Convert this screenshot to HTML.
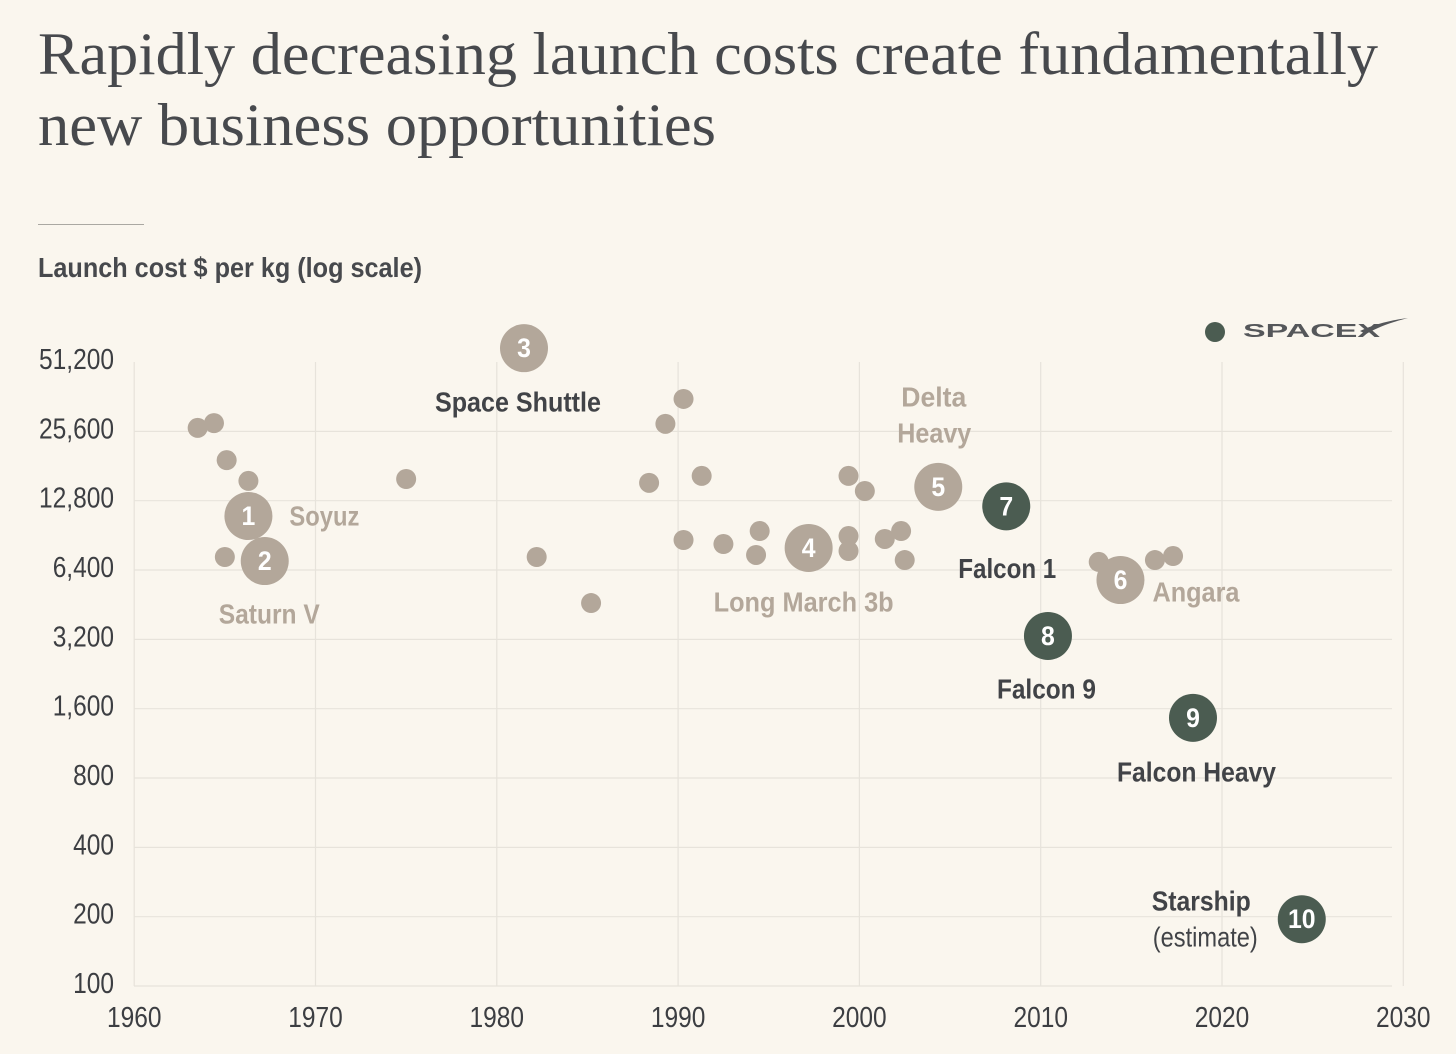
<!DOCTYPE html>
<html lang="en">
<head>
<meta charset="utf-8">
<title>Rapidly decreasing launch costs</title>
<style>
html,body{margin:0;padding:0;background:#faf6ee;}
svg{display:block;}
text{font-family:"Liberation Sans",sans-serif;}
.title{font-family:"Liberation Serif",serif;font-size:60px;fill:#47494d;}
.lab{font-weight:700;font-size:28px;}
.tick{font-size:29px;fill:#3c3e42;}
.num{font-weight:700;font-size:27px;fill:#fff;text-anchor:middle;}
</style>
</head>
<body>
<svg id="chart" width="1456" height="1054" viewBox="0 0 1456 1054" xmlns="http://www.w3.org/2000/svg">
  <rect width="1456" height="1054" fill="#faf6ee"/>
  <text class="title" x="38" y="74" textLength="1340" lengthAdjust="spacingAndGlyphs">Rapidly decreasing launch costs create fundamentally</text>
  <text class="title" x="38" y="145" textLength="678" lengthAdjust="spacingAndGlyphs">new business opportunities</text>
  <line x1="38" x2="144" y1="224.5" y2="224.5" stroke="#aaa8a2" stroke-width="1"/>
  <text x="38" y="277" font-size="28" font-weight="700" fill="#47494d" textLength="384" lengthAdjust="spacingAndGlyphs">Launch cost $ per kg (log scale)</text>
  <g id="grid"></g>
  <g id="ticks"></g>
  <g id="others"></g>
  <g id="named"></g>
  <g id="labels"></g>
  <g>
    <circle cx="1215" cy="332" r="10" fill="#4b5c51"/>
    <text x="1243" y="337" font-size="18" font-weight="700" fill="#55575a" textLength="137" lengthAdjust="spacingAndGlyphs">SPACEX</text>
    <path d="M1360 331 C1375 324 1392 320 1408 318 C1392 322 1378 327 1366 334 Z" fill="#55575a"/>
  </g>
</svg>
<script>
const xTickYears = [1960, 1970, 1980, 1990, 2000, 2010, 2020, 2030];
const yTickCosts = [100, 200, 400, 800, 1600, 3200, 6400, 12800, 25600, 51200];

const otherYears = [1963.5, 1964.4, 1965.1, 1966.3, 1965.0, 1975.0, 1982.2, 1985.2, 1988.4, 1989.3, 1990.3, 1991.3, 1990.3, 1992.5, 1994.3, 1994.5, 1999.4, 2000.3, 1999.4, 1999.4, 2001.4, 2002.3, 2002.5, 2013.2, 2016.3, 2017.3];
const otherCosts = [26500, 27800, 19200, 15600, 7290, 15900, 7290, 4600, 15300, 27600, 35400, 16400, 8640, 8300, 7440, 9450, 16400, 14100, 8990, 7740, 8730, 9450, 7070, 6940, 7070, 7360];

const namedVehicles = ['Soyuz', 'Saturn V', 'Space Shuttle', 'Long March 3b', 'Delta Heavy', 'Angara', 'Falcon 1', 'Falcon 9', 'Falcon Heavy', 'Starship'];
const namedYears = [1966.3, 1967.2, 1981.5, 1997.2, 2004.35, 2014.4, 2008.1, 2010.4, 2018.4, 2024.4];
const namedCosts = [10980, 7000, 58800, 7980, 14700, 5790, 12100, 3310, 1460, 195];
const namedIsSpaceX = [false, false, false, false, false, false, true, true, true, true];

const TAN = '#b3a79a', GREEN = '#4b5c51', DARK = '#414347', GRID = '#e7e3db';
const NS = 'http://www.w3.org/2000/svg';
const xScale = y => 134.2 + (y - 1960) * 18.13;
const yScale = c => 986 - Math.log2(c / 100) * 69.33;

function make(tag, attrs, parent) {
  const el = document.createElementNS(NS, tag);
  for (const k in attrs) el.setAttribute(k, attrs[k]);
  parent.appendChild(el);
  return el;
}
function squeeze(el, ratio) {
  el.setAttribute('textLength', (el.getComputedTextLength() * ratio).toFixed(1));
  el.setAttribute('lengthAdjust', 'spacingAndGlyphs');
}

const grid = document.getElementById('grid');
const ticks = document.getElementById('ticks');
const others = document.getElementById('others');
const named = document.getElementById('named');
const labels = document.getElementById('labels');

yTickCosts.forEach(c => {
  const y = yScale(c);
  if (c < 51200) {
    const l = make('line', {x1: 134, x2: 1392, y1: y, y2: y, stroke: GRID, 'stroke-width': 1.2}, grid);
    
    
  }
  const t = make('text', {class: 'tick', x: 114, y: y + 7, 'text-anchor': 'end'}, ticks);
  t.textContent = c.toLocaleString('en-US');
  
  
  squeeze(t, 0.845);
});

xTickYears.forEach(yr => {
  const x = xScale(yr);
  const l = make('line', {x1: x, x2: x, y1: yScale(51200), y2: yScale(100), stroke: GRID, 'stroke-width': 1.2}, grid);
  
  
  const t = make('text', {class: 'tick', x: x, y: 1027, 'text-anchor': 'middle'}, ticks);
  t.textContent = yr;
  
  
  squeeze(t, 0.845);
});

otherYears.forEach((yr, i) => {
  const c = make('circle', {cx: xScale(yr), cy: yScale(otherCosts[i]), r: 10, fill: TAN}, others);
  
  
});

namedYears.forEach((yr, i) => {
  const cx = xScale(yr), cy = yScale(namedCosts[i]);
  const c = make('circle', {cx: cx, cy: cy, r: 24, fill: namedIsSpaceX[i] ? GREEN : TAN}, named);
  
  
  const n = make('text', {class: 'num', x: cx, y: cy + 9}, named);
  n.textContent = i + 1;
  
  
  squeeze(n, 0.92);
});

/* label placement relative to each bubble: vehicle index, text, dx, dy, width, weight, colour */
const labelPlacement = [
  [0, 'Soyuz', 41, 10, 70, 700, TAN],
  [1, 'Saturn V', -46, 63, 101, 700, TAN],
  [2, 'Space Shuttle', -89, 64, 166, 700, DARK],
  [3, 'Long March 3b', -95, 64, 180, 700, TAN],
  [4, 'Delta', -37, -80, 65, 700, TAN],
  [4, 'Heavy', -41, -44, 74, 700, TAN],
  [5, 'Angara', 32, 22, 87, 700, TAN],
  [6, 'Falcon 1', -48, 72, 98, 700, DARK],
  [7, 'Falcon 9', -51, 63, 99, 700, DARK],
  [8, 'Falcon Heavy', -76, 64, 159, 700, DARK],
  [9, 'Starship', -150, -8, 99, 700, DARK],
  [9, '(estimate)', -149, 28, 105, 400, DARK]
];
labelPlacement.forEach(p => {
  const t = make('text', {
    class: 'lab',
    x: xScale(namedYears[p[0]]) + p[2],
    y: yScale(namedCosts[p[0]]) + p[3] - 0.5,
    fill: p[6],
    'font-weight': p[5],
    style: 'font-weight:' + p[5],
    textLength: p[4],
    lengthAdjust: 'spacingAndGlyphs'
  }, labels);
  t.textContent = p[1];
  
  
});
</script>
</body>
</html>
